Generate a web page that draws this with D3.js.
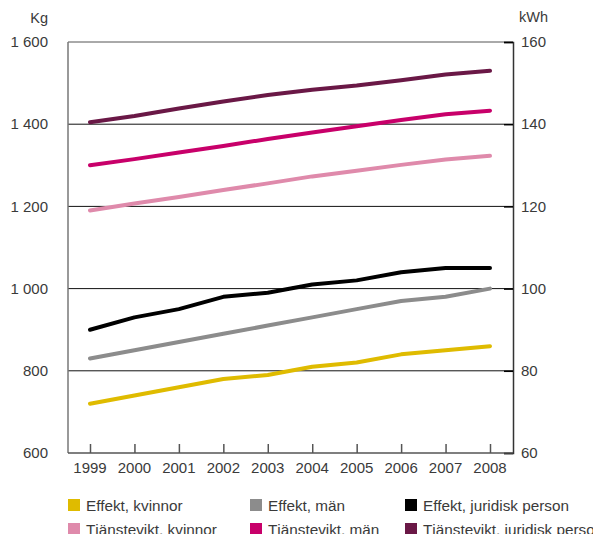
<!DOCTYPE html>
<html><head><meta charset="utf-8">
<script src="https://cdn.jsdelivr.net/npm/d3@7"></script>
<style>
body{margin:0;background:#fff;}
svg text{font-family:"Liberation Sans",Arial,sans-serif;fill:#3a3a3a;}
</style></head>
<body><svg id="c" width="593" height="534"></svg>
<script>
const years = [1999,2000,2001,2002,2003,2004,2005,2006,2007,2008];
// Effekt series in kWh (right axis)
const effektKvinnor = [72,74,76,78,79,81,82,84,85,86];
const effektMan = [83,85,87,89,91,93,95,97,98,100];
const effektJuridisk = [90,93,95,98,99,101,102,104,105,105];
// Tjänstevikt series in Kg (left axis)
const tjKvinnor = [1190,1207,1223,1240,1256,1273,1287,1301,1314,1323];
const tjMan = [1300,1315,1331,1347,1364,1380,1395,1410,1424,1433];
const tjJuridisk = [1405,1420,1438,1455,1471,1484,1494,1507,1521,1530];
const kgTicks = [600,800,1000,1200,1400,1600];
const kwhTicks = [60,80,100,120,140,160];
const seriesNames = ["Effekt, kvinnor","Effekt, män","Effekt, juridisk person","Tjänstevikt, kvinnor","Tjänstevikt, män","Tjänstevikt, juridisk person"];
const colors = ["#dfbb00","#8c8c8c","#000000","#df8aab","#c8006a","#6a1846"];

const svg = d3.select("#c");
const L=68,R=513,T=42,B=453;
const x = d3.scalePoint().domain(years).range([90,490]);
const yKg = d3.scaleLinear().domain([600,1600]).range([B,T]);
const yKwh = d3.scaleLinear().domain([60,160]).range([B,T]);

// gridlines
svg.append("g").selectAll("line").data(kgTicks.slice(1)).join("line")
  .attr("x1",L).attr("x2",R).attr("y1",d=>yKg(d)).attr("y2",d=>yKg(d))
  .attr("stroke",d=>d===1600?"#555":"#111").attr("stroke-width",1);

// left axis line
svg.append("line").attr("x1",L).attr("x2",L).attr("y1",T).attr("y2",B).attr("stroke","#777").attr("stroke-width",1.5);
// right axis
const ra = svg.append("g").attr("transform",`translate(${R},0)`)
  .call(d3.axisLeft(yKwh).tickValues(kwhTicks).tickSize(9).tickFormat(""));
ra.select(".domain").attr("stroke","#333").attr("stroke-width",1.5);
ra.selectAll(".tick line").attr("stroke","#000").attr("stroke-width",1.5);
svg.append("g").selectAll("text").data(kwhTicks).join("text")
  .attr("x",R+8).attr("y",d=>yKwh(d)).attr("dy","0.35em").attr("font-size",15).text(d=>d);
svg.append("text").attr("x",519).attr("y",22).attr("font-size",14.5).text("kWh");

// left labels
svg.append("g").selectAll("text").data(kgTicks).join("text")
  .attr("x",48).attr("y",d=>yKg(d)).attr("dy","0.35em").attr("text-anchor","end").attr("font-size",15)
  .text(d=>d3.format(",")(d).replace(","," "));
svg.append("text").attr("x",48).attr("y",23).attr("text-anchor","end").attr("font-size",14.5).text("Kg");

// bottom axis
const ba = svg.append("g").attr("transform",`translate(0,${B})`)
  .call(d3.axisTop(x).tickSize(9).tickFormat(""));
ba.select(".domain").attr("d",`M${L},0H${R}`).attr("stroke","#555").attr("stroke-width",1.5);
ba.selectAll(".tick line").attr("stroke","#555").attr("stroke-width",1.5);
svg.append("g").selectAll("text").data(years).join("text")
  .attr("x",d=>x(d)).attr("y",473).attr("text-anchor","middle").attr("font-size",15).text(d=>d);

// lines
const data = [
  {v:effektKvinnor,y:yKwh},{v:effektMan,y:yKwh},{v:effektJuridisk,y:yKwh},
  {v:tjKvinnor,y:yKg},{v:tjMan,y:yKg},{v:tjJuridisk,y:yKg}
];
data.forEach((s,i)=>{
  const line = d3.line().x((d,j)=>x(years[j])).y(d=>s.y(d));
  svg.append("path").attr("d",line(s.v)).attr("fill","none").attr("stroke",colors[i])
    .attr("stroke-width",4).attr("stroke-linecap","round").attr("stroke-linejoin","round");
});

// legend
const colX=[68,250,405], rowY=[499,523];
const lg = svg.append("g");
seriesNames.forEach((n,i)=>{
  const cx=colX[i%3], cy=rowY[Math.floor(i/3)];
  lg.append("rect").attr("x",cx).attr("y",cy).attr("width",12).attr("height",12).attr("fill",colors[i]);
  lg.append("text").attr("x",cx+18).attr("y",cy+12).attr("font-size",15.3).text(n);
});
</script></body></html>
